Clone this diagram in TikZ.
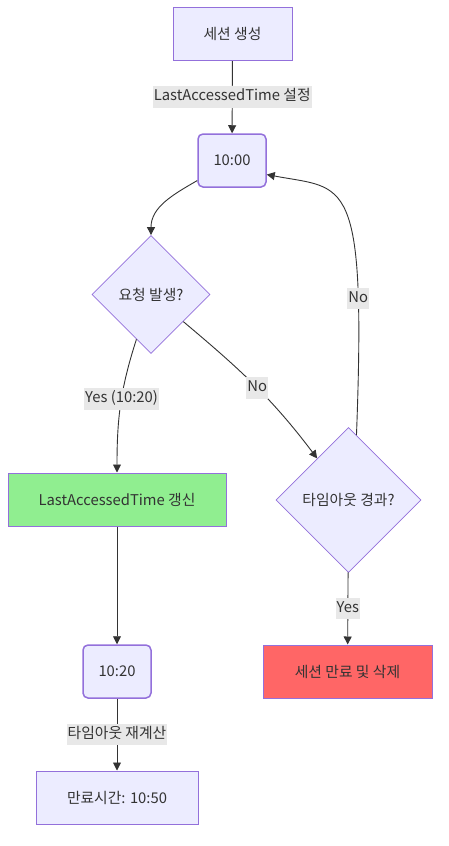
\documentclass[tikz,border=0pt]{standalone}
\usepackage{fontspec}
\setmainfont{Noto Sans CJK KR}
\usepackage{tikz}
\usetikzlibrary{shapes.geometric}
\usetikzlibrary{arrows.meta}
\usepackage{xcolor}
\definecolor{nodefill}{HTML}{ECECFF}
\definecolor{nodeline}{HTML}{9370DB}
\definecolor{textgray}{HTML}{333333}
\definecolor{labelfill}{HTML}{E8E8E8}
\definecolor{okgreen}{HTML}{90EE90}
\definecolor{expired}{HTML}{FF6666}

\begin{document}
\begin{tikzpicture}[x=1pt, y=1pt,
	every node/.style={text=textgray, font=\fontsize{14.8}{17}\selectfont},
	box/.style={draw=nodeline, fill=nodefill, line width=1pt, minimum height=53pt, inner xsep=1pt},
	roundbox/.style={box, line width=1.5pt, rounded corners=5pt},
	choice/.style={draw=nodeline, fill=nodefill, line width=0.8pt, diamond, aspect=1, inner sep=0pt},
	edge/.style={draw=textgray, line width=0.9pt, -{Triangle[length=8pt, width=8pt]}},
	edgelabel/.style={fill=labelfill, inner xsep=1pt, inner ysep=3.5pt, text height=11pt, text depth=3.5pt}]
	\useasboundingbox (0,0) rectangle (448,-846);
	\node[box, minimum width=119pt] (start) at (232.5,-34) {세션 생성};
	\node[roundbox, minimum width=68pt] (t0) at (232,-160.5) {10:00};
	\node[choice, minimum size=118pt] (req) at (151,-294.5) {요청 발생?};
	\node[box, fill=okgreen, minimum width=218pt] (upd) at (117,-499.5) {LastAccessedTime 갱신};
	\node[choice, minimum size=145pt] (timeout) at (348.5,-500) {타임아웃 경과?};
	\node[roundbox, minimum width=68pt] (t1) at (117,-671.5) {10:20};
	\node[box, minimum width=162pt] (expiry) at (117,-797.5) {만료시간: 10:50};
	\node[box, fill=expired, minimum width=169pt] (remove) at (347.5,-671.5) {세션 만료 및 삭제};

	\draw[edge] (start) -- node[edgelabel] {LastAccessedTime 설정} (t0);
	\draw[edge] (t0.-150) to[out=-150, in=90] (req.north);
	\draw[edge] (req.-108) to[out=-108, in=90] node[edgelabel, pos=0.45] {Yes (10:20)} (upd.north);
	\draw[edge] (req) to[out=-40, in=127] node[edgelabel, pos=0.52] {No} (timeout);
	\draw[edge] (timeout.83) .. controls +(10,264) and +(79,-15) .. node[edgelabel, pos=0.22] {No} (t0.-22);
	\draw[edge] (timeout) -- node[edgelabel] {Yes} (remove);
	\draw[edge] (upd) -- (t1);
	\draw[edge] (t1) -- node[edgelabel] {타임아웃 재계산} (expiry);
\end{tikzpicture}
\end{document}
